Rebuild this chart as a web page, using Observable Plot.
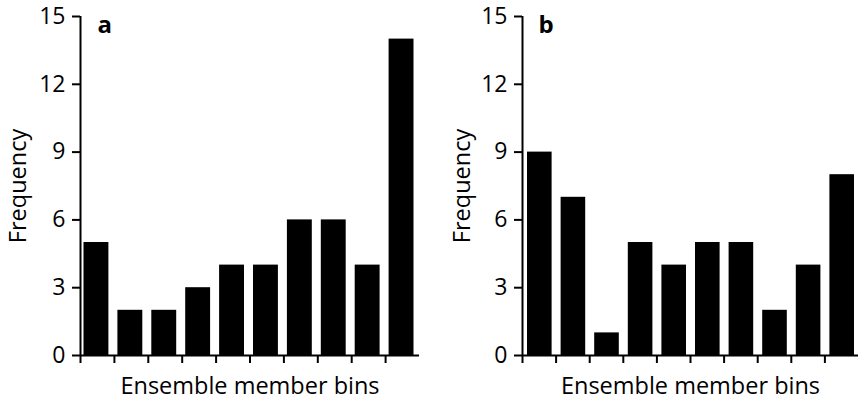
<!DOCTYPE html>
<html><head><meta charset="utf-8">
<script src="https://cdn.jsdelivr.net/npm/d3@7"></script>
<script src="https://cdn.jsdelivr.net/npm/@observablehq/plot@0.6"></script>
<style>
body{margin:0;background:#fff;}
#wrap{display:flex;width:860px;height:403px;}
svg{font-family:"Open Sans",sans-serif;}
</style></head><body><div id="wrap"></div>
<script>
const bins = [1,2,3,4,5,6,7,8,9,10];
const freqA = [5,2,2,3,4,4,6,6,4,14];
const freqB = [9,7,1,5,4,5,5,2,4,8];
const yTicks = [0,3,6,9,12,15];
const panelLabels = ["a","b"];
const xTitle = "Ensemble member bins";
const yTitle = "Frequency";

function panel(values, label, opt){
  const data = bins.map((b,i)=>({x1:b-1, x2:b, y:values[i]}));
  return Plot.plot({
    width:430, height:403,
    marginLeft:opt.ml, marginRight:opt.mr, marginTop:16, marginBottom:48,
    style:{fontFamily:'"Open Sans",sans-serif', fontSize:"23px", color:"#000", background:"#fff"},
    x:{type:"linear", domain:[0,10], axis:null},
    y:{domain:[0,15], axis:null},
    marks:[
      Plot.rectY(data,{x1:"x1",x2:"x2",y:"y",fill:"#000",insetLeft:opt.il,insetRight:opt.ir}),
      Plot.ruleY([0],{x1:0,x2:10,stroke:"#000",strokeWidth:2}),
      Plot.ruleX([0],{y1:0,y2:15,stroke:"#000",strokeWidth:2}),
      Plot.axisY({ticks:yTicks,tickSize:8,tickPadding:7,fontSize:23,label:null,stroke:"#000",strokeWidth:2}),
      Plot.axisX({ticks:bins.map(b=>b-1),tickSize:8,tickFormat:()=>"",label:null,stroke:"#000",strokeWidth:2}),
      Plot.text([label],{frameAnchor:"top-left",dx:opt.ldx,dy:9,lineAnchor:"middle",fontWeight:"bold",fontSize:24,text:d=>d,textAnchor:"start"}),
      Plot.text([yTitle],{frameAnchor:"left",dx:opt.ydx,rotate:-90,textAnchor:"middle",lineAnchor:"middle",fontSize:23.5,text:d=>d}),
      Plot.text([xTitle],{frameAnchor:"bottom",dy:31,lineAnchor:"middle",textAnchor:"middle",fontSize:23.5,text:d=>d})
    ]
  });
}
const wrap = document.getElementById("wrap");
wrap.appendChild(panel(freqA, panelLabels[0], {ml:80, mr:11, il:3.5, ir:5.5, ldx:17, ydx:-62}));
wrap.appendChild(panel(freqB, panelLabels[1], {ml:92, mr:2, il:5, ir:4, ldx:16, ydx:-60}));
</script></body></html>
